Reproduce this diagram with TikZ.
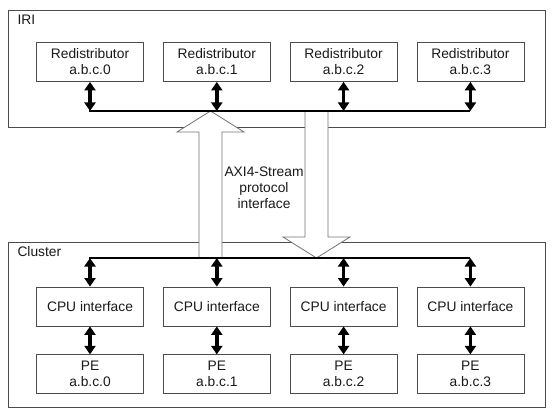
\documentclass[tikz,border=0pt]{standalone}
\usepackage{fontspec}
\setmainfont{Liberation Sans}
\usetikzlibrary{positioning,arrows.meta}

\begin{document}
\begin{tikzpicture}[
  x=1pt, y=-1pt,
  style={node distance=19pt},
  txt/.style={font=\fontsize{13.8}{16}\selectfont, text=black!90},
  unit/.style={txt, draw=black!70, line width=0.8pt, minimum width=107pt,
    minimum height=39pt, inner sep=0pt, align=center},
  region/.style={draw=black!70, line width=0.9pt},
  bus/.style={line width=2.6pt},
  link/.style={line width=3.6pt,
    {Triangle[width=11pt,length=8.5pt]}-{Triangle[width=11pt,length=8.5pt]}},
  hollow/.style={draw=black!55, line width=0.8pt, fill=white},
]
  \useasboundingbox (0,0) rectangle (554,417);

  % Outer regions
  \draw[region] (8,10) rectangle (545,127);
  \draw[region] (8,242) rectangle (545,407);
  \node[txt, anchor=base west] (iri) at (14,25) {IRI};
  \node[txt, anchor=base west] (cluster) at (14,256) {Cluster};

  % Bus levels
  \coordinate (ibus) at (0,111);
  \coordinate (cbus) at (0,258);

  % AXI4-Stream hollow arrows
  \draw[hollow] (199,258) -- (199,132) -- (177,132) -- (210.5,111)
    -- (244,132) -- (222,132) -- (222,258) -- cycle;
  \draw[hollow] (305,111) -- (305,237) -- (283,237) -- (316.5,258)
    -- (350,237) -- (328,237) -- (328,111) -- cycle;
  \node[txt, align=center] (axi) at (264,188) {AXI4-Stream\\protocol\\interface};

  % Redistributors
  \node[unit] (r0) at (90,62) {Redistributor\\a.b.c.0};
  \node[unit, right=of r0] (r1) {Redistributor\\a.b.c.1};
  \node[unit, right=of r1] (r2) {Redistributor\\a.b.c.2};
  \node[unit, right=of r2] (r3) {Redistributor\\a.b.c.3};

  % CPU interfaces and PEs
  \node[unit] (c0) at (90,306.5) {CPU interface};
  \node[unit, right=of c0] (c1) {CPU interface};
  \node[unit, right=of c1] (c2) {CPU interface};
  \node[unit, right=of c2] (c3) {CPU interface};

  \node[unit, below=28pt of c0] (p0) {PE\\a.b.c.0};
  \node[unit, below=28pt of c1] (p1) {PE\\a.b.c.1};
  \node[unit, below=28pt of c2] (p2) {PE\\a.b.c.2};
  \node[unit, below=28pt of c3] (p3) {PE\\a.b.c.3};

  % Buses
  \draw[bus] ([xshift=-1pt]r0.south |- ibus) -- (r3.south |- ibus);
  \draw[bus] ([xshift=-1pt]c0.north |- cbus) -- (c3.north |- cbus);

  \draw[link] (r0.south) -- (r0.south |- ibus);
  \draw[link] (r1.south) -- (r1.south |- ibus);
  \draw[link] (r2.south) -- (r2.south |- ibus);
  \draw[link] (r3.south) -- (r3.south |- ibus);

  \draw[link] (c0.north |- cbus) -- (c0.north);
  \draw[link] (c1.north |- cbus) -- (c1.north);
  \draw[link] (c2.north |- cbus) -- (c2.north);
  \draw[link] (c3.north |- cbus) -- (c3.north);

  \draw[link] (c0.south) -- (p0.north);
  \draw[link] (c1.south) -- (p1.north);
  \draw[link] (c2.south) -- (p2.north);
  \draw[link] (c3.south) -- (p3.north);
\end{tikzpicture}
\end{document}
